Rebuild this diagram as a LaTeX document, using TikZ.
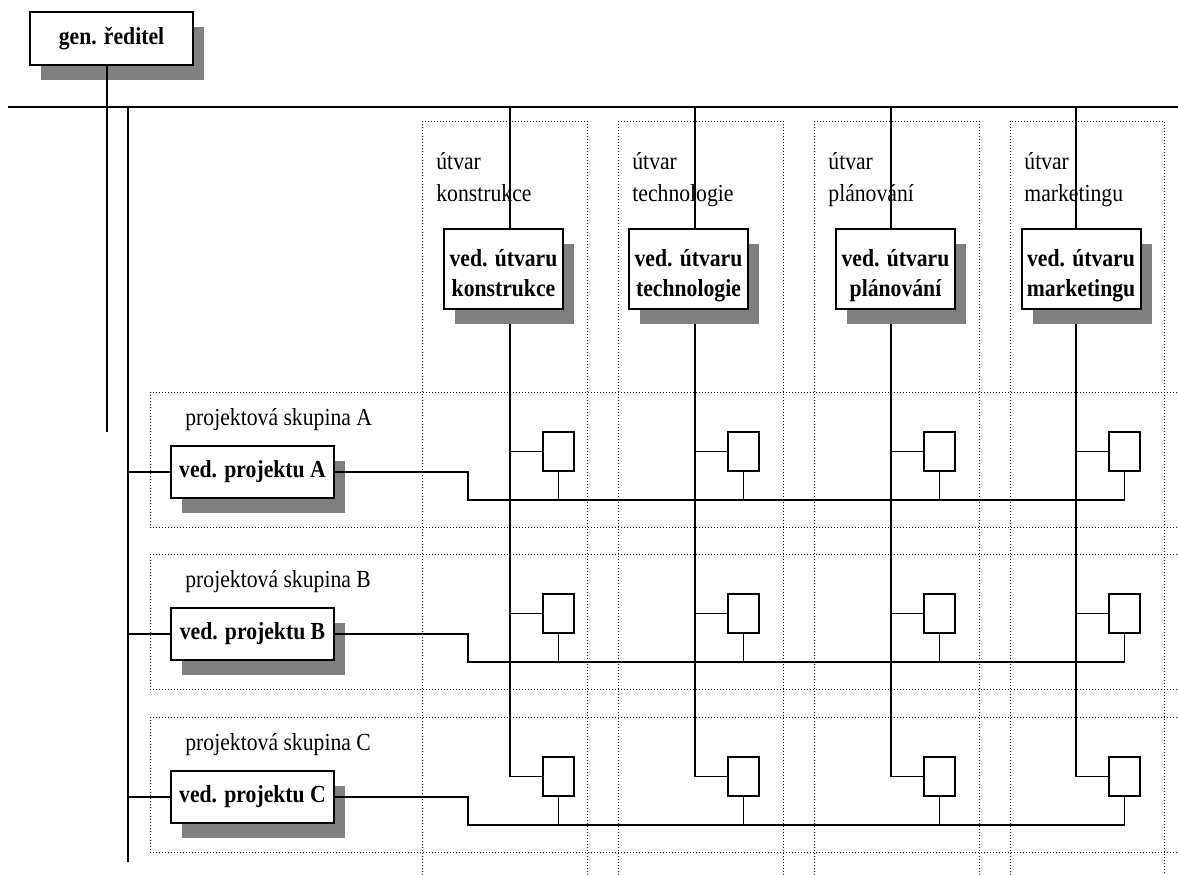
\documentclass[tikz,border=0pt]{standalone}
\usepackage{fontspec}
\setmainfont{Liberation Serif}[FakeStretch=0.885]
\usetikzlibrary{positioning, calc, shadows}

\begin{document}
\begin{tikzpicture}
    [x=0.5pt, y=-0.5pt,
    every node/.style={font=\fontsize{12.25pt}{15pt}\selectfont},
    chiefbox/.style={rectangle, draw=black, line width=1pt, fill=white, inner sep=0pt,
        font=\fontsize{12.25pt}{15pt}\selectfont\bfseries,
        drop shadow={shadow xshift=5.5pt, shadow yshift=-7.5pt, fill=gray, opacity=1}},
    headbox/.style={chiefbox, minimum width=59.5pt, minimum height=40pt, align=center,
        text height=27pt, text depth=0pt},
    projbox/.style={chiefbox, minimum width=81.5pt, minimum height=26pt},
    smallbox/.style={rectangle, draw=black, line width=1pt, fill=white,
        minimum width=15.5pt, minimum height=19.5pt, inner sep=0pt},
    tagtext/.style={inner sep=0pt, font=\fontsize{12.25pt}{16pt}\selectfont},
    dotbox/.style={draw=black, line width=0.5pt, dash pattern=on 0.5pt off 1pt},
    link/.style={draw=black, line width=0.8pt}]

    \useasboundingbox (0,0) rectangle (1178,874);
    \clip (0,0) rectangle (1178,874);

    %Coordinates
    \coordinate (busL) at (8,107);
    \coordinate (busR) at (1178,107);
    \coordinate (trunkA) at (107,432);
    \coordinate (trunkB) at (128,862);

    %Project groups
    \foreach \r/\dy in {A/0, B/162, C/325}{
        \draw[dotbox] (150,392+\dy) rectangle (1190,527+\dy);
        \node[tagtext, anchor=base west] (g\r) at (185,425+\dy) {projektová skupina \r};
        \node[projbox] (p\r) at (252.5,472+\dy) {ved. projektu \r};
        \draw[link] (p\r.west -| trunkB) -- (p\r.west);
        \foreach \c/\x in {k/510, t/695, p/891, m/1076}{
            \node[smallbox] (s\r\c) at (\x+48.5,451.5+\dy) {};
            \draw[link] (s\r\c.west) -- ++(-33,0);
            \draw[link] (s\r\c.south) -- ++(0,28);
        }
        \draw[link] (p\r.east) -- ++(133,0) |- ($(s\r m.south)+(0,28)$);
    }

    %Departments
    \foreach \c/\x/\hx/\L/\w/\lab in {k/510/503.5/422/165/konstrukce,
            t/695/688.5/618/165/technologie, p/891/895.5/814/165/plánování,
            m/1076/1081/1010/154/marketingu}{
        \draw[dotbox] (\L,121) rectangle (\L+\w,900);
        \draw[link] (\x,107) -- (\x,776.5);
        \node[headbox] (h\c) at (\hx,269) {ved. útvaru\\\lab};
        \node[tagtext, anchor=base west, align=left] (u\c) at (\L+14,201) {útvar\\\lab};
    }

    %Director
    \node[chiefbox, minimum width=81.5pt, minimum height=26.5pt] (gr) at (111.5,38.5) {gen. ředitel};

    %Lines
    \draw[link] (busL) -- (busR);
    \draw[link] (gr.south -| trunkA) -- (trunkA);
    \draw[link] (busL -| trunkB) -- (trunkB);
\end{tikzpicture}
\end{document}
